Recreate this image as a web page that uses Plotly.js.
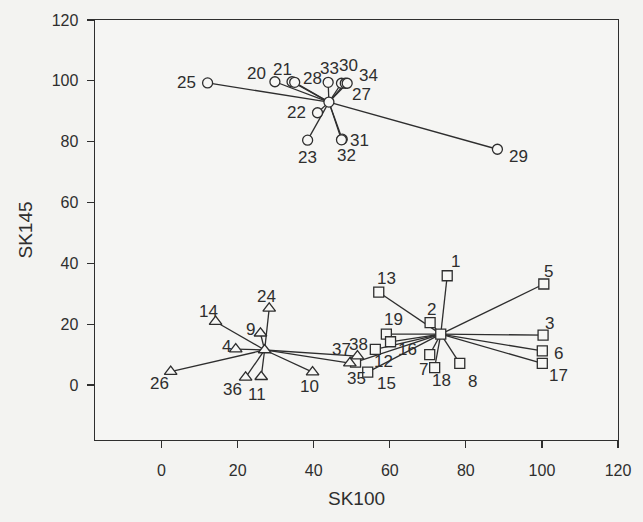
<!DOCTYPE html>
<html>
<head>
<meta charset="utf-8">
<script src="https://cdn.plot.ly/plotly-3.0.1.min.js"></script>
<style>
  html, body { margin: 0; padding: 0; background: #f3f3f1; }
  #chart { width: 643px; height: 522px; }
</style>
</head>
<body>
<div id="chart"></div>
<script>
// --- group 1: circles (upper cluster) ---
const circleIds = ['25', '20', '21', '28', '33', '30', '27', '34', '22', '23', '31', '32', '29'];
const circleX = [12.1, 29.8, 34.3, 35.0, 43.8, 47.3, 48.3, 48.8, 41.0, 38.4, 47.5, 47.3, 88.3];
const circleY = [99.3, 99.7, 99.7, 99.5, 99.5, 99.2, 99.2, 99.2, 89.5, 80.5, 80.8, 80.6, 77.5];
const circleCentre = [44.0, 93.0];

// --- group 2: squares (right cluster) ---
const squareIds = ['1', '13', '5', '2', '19', '3', '6', '17', '7', '18', '8', '16', '12', '15', '35'];
const squareX = [75.1, 57.1, 100.5, 70.6, 59.1, 100.3, 100.1, 100.1, 70.5, 71.8, 78.4, 60.2, 56.2, 54.2, 51.0];
const squareY = [35.9, 30.5, 33.2, 20.5, 16.7, 16.4, 11.2, 7.1, 10.0, 5.7, 7.1, 14.2, 11.7, 4.2, 7.5];
const squareCentre = [73.4, 16.7];

// --- group 3: triangles (left cluster) ---
const triIds = ['24', '14', '9', '4', '26', '36', '11', '10', '37', '38'];
const triX = [28.3, 14.2, 26.0, 19.5, 2.4, 22.1, 26.2, 39.7, 49.5, 51.5];
const triY = [25.2, 20.8, 17.0, 11.8, 4.4, 2.5, 2.7, 4.2, 7.2, 9.5];
const triCentre = [27.1, 11.5];

// label offsets in pixels (dx right, dy up) from each marker
const circleDx = [-21, -18, -10, 18, 1, 7, 16, 21, -21, 0, 17, 5, 21];
const circleDy = [0, 8, 12, 4, 14, 18, -11, 8, 0, -17, -1, -16, -7];
const squareDx = [8, 8, 5, 1, 7, 6, 16, 16, -6, 7, 13, 17, 8, 19, 1];
const squareDy = [14, 14, 12, 13, 15, 12, -3, -12, -15, -13, -18, -8, -12, -11, -16];
const triDx = [-3, -7, -10, -9, -11, -13, -4, -3, -8, 1];
const triDy = [12, 10, 4, 3, -12, -12, -18, -14, 14, 12];

const ink = '#2e2e2e';
const font = 'Liberation Sans, Arial, sans-serif';
const fill = '#f7f7f5';

function spokes(xs, ys, c) {
  const lx = [], ly = [];
  xs.forEach((x, i) => {
    lx.push(c[0], x, null);
    ly.push(c[1], ys[i], null);
  });
  return {
    x: lx, y: ly, mode: 'lines', type: 'scatter',
    line: { color: ink, width: 1.3 }, hoverinfo: 'skip'
  };
}

function points(xs, ys, symbol, size) {
  return {
    x: xs, y: ys, mode: 'markers', type: 'scatter',
    marker: { symbol: symbol, size: size, color: fill, line: { color: ink, width: 1.3 } }
  };
}

function labels(xs, ys, ids, dx, dy) {
  return ids.map((t, i) => ({
    x: xs[i], y: ys[i], text: t, showarrow: false,
    xshift: dx[i], yshift: dy[i],
    xanchor: 'center', yanchor: 'middle',
    font: { family: font, size: 17, color: ink }
  }));
}

const traces = [
  spokes(circleX, circleY, circleCentre),
  spokes(squareX, squareY, squareCentre),
  spokes(triX, triY, triCentre),
  points(circleX, circleY, 'circle', 10),
  points(squareX, squareY, 'square', 10),
  points(triX, triY, 'triangle-up', 11),
  points([circleCentre[0]], [circleCentre[1]], 'circle', 10),
  points([squareCentre[0]], [squareCentre[1]], 'square', 10),
  points([triCentre[0]], [triCentre[1]], 'triangle-up', 11)
];

const axisCommon = {
  showgrid: false, zeroline: false,
  showline: true, linecolor: ink, linewidth: 1.4, mirror: true,
  ticks: 'outside', ticklen: 7, tickwidth: 1.2, tickcolor: ink,
  tickfont: { family: font, size: 16, color: ink },
  dtick: 20, tick0: 0
};

const layout = {
  width: 643, height: 522,
  margin: { l: 95, r: 25, t: 20, b: 82 },
  paper_bgcolor: '#f3f3f1',
  plot_bgcolor: '#f5f5f3',
  showlegend: false,
  font: { family: font, color: ink },
  xaxis: Object.assign({}, axisCommon, {
    range: [-17.5, 120],
    ticklabelstandoff: 8,
    title: { text: 'SK100', font: { family: font, size: 19, color: ink }, standoff: 14 }
  }),
  yaxis: Object.assign({}, axisCommon, {
    range: [-18.1, 120],
    ticklabelstandoff: 5,
    title: { text: 'SK145', font: { family: font, size: 19, color: ink }, standoff: 14 }
  }),
  annotations: [].concat(
    labels(circleX, circleY, circleIds, circleDx, circleDy),
    labels(squareX, squareY, squareIds, squareDx, squareDy),
    labels(triX, triY, triIds, triDx, triDy)
  )
};

Plotly.newPlot('chart', traces, layout, { displayModeBar: false, staticPlot: true });
</script>
</body>
</html>
